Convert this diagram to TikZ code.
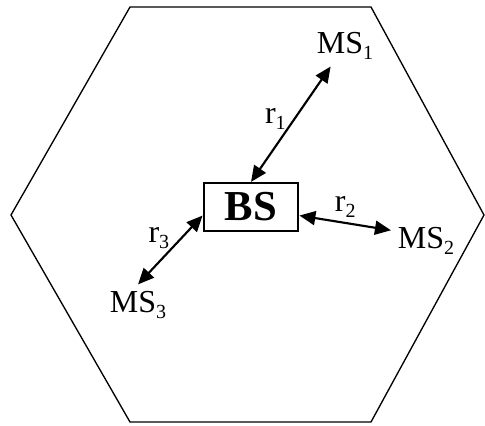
\documentclass[tikz,border=0pt]{standalone}
\usepackage{fontspec}
\setmainfont{Liberation Serif}
\usetikzlibrary{arrows.meta}
\newcommand{\idx}[1]{\raisebox{-4.5pt}{\fontsize{15}{15}\selectfont #1}}

\begin{document}
\begin{tikzpicture}[
    x=0.75pt, y=-0.75pt,
    every node/.style={font=\fontsize{24}{26}\selectfont},
    station/.style={inner sep=5pt},
    >={Triangle[length=12pt,width=10.5pt]},
    link/.style={<->, line width=1.6pt}
  ]
  \useasboundingbox (0,0) rectangle (485,425);
  % cell
  \draw[line width=1pt] (130,7) -- (371,7) -- (484,215) -- (371,422) -- (130,422) -- (11,215) -- cycle;
  \node[draw, line width=1.6pt, minimum width=71pt, minimum height=36pt, font=\fontsize{32}{34}\selectfont\bfseries] (bs) at (251,207) {BS};
  \node[station] (ms1) at (345,46) {MS\idx{1}};
  \node[station] (ms2) at (426,241) {MS\idx{2}};
  \node[station] (ms3) at (138,305) {MS\idx{3}};
  \draw[link] (bs.north) -- node[left, inner sep=3pt, yshift=4pt] {r\idx{1}} (ms1.235);
  \draw[link] (bs.-10) -- node[above, inner sep=3pt] {r\idx{2}} (ms2.163);
  \draw[link] (bs.190) -- node[above left, inner sep=0pt] {r\idx{3}} (ms3.north);
\end{tikzpicture}
\end{document}
